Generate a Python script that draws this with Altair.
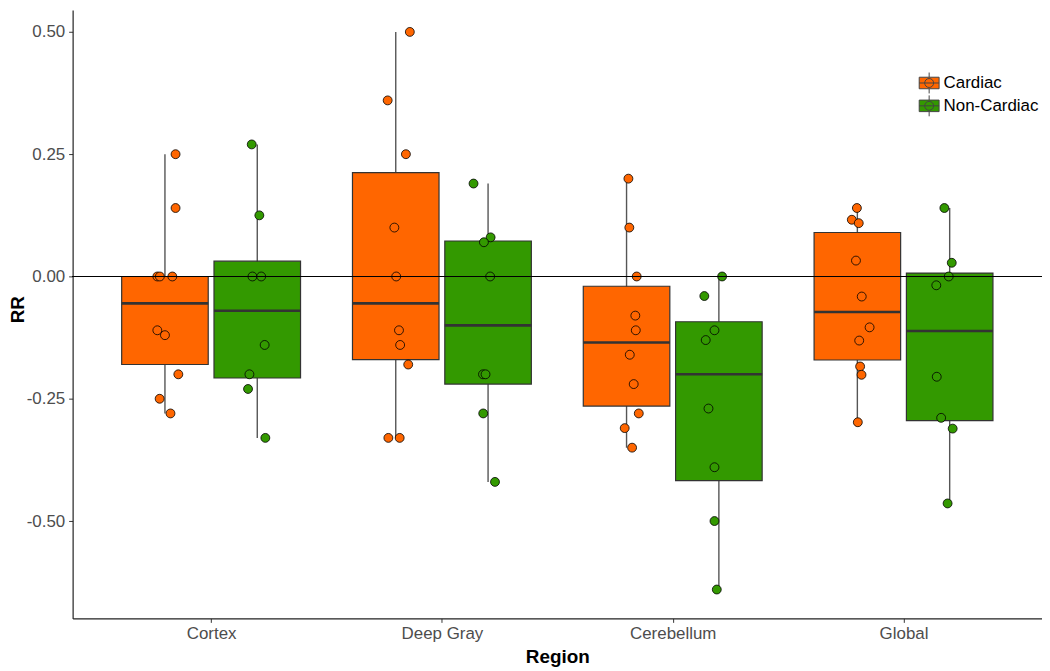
import altair as alt
import pandas as pd

regions = ["Cortex", "Deep Gray", "Cerebellum", "Global"]
groups = ["Cardiac", "Non-Cardiac"]
colors = ["#FF6600", "#339900"]

cortex_cardiac = [0.25, 0.14, 0.0, 0.0, 0.0, -0.11, -0.12, -0.20, -0.25, -0.28]
cortex_cardiac_jitter = [0.046, 0.046, -0.033, -0.022, 0.032, -0.033, 0.0, 0.058, -0.023, 0.024]
cortex_noncardiac = [0.27, 0.125, 0.0, 0.0, -0.14, -0.20, -0.23, -0.33]
cortex_noncardiac_jitter = [-0.024, 0.009, -0.021, 0.017, 0.032, -0.034, -0.040, 0.035]
deepgray_cardiac = [0.50, 0.36, 0.25, 0.10, 0.0, -0.11, -0.14, -0.18, -0.33, -0.33]
deepgray_cardiac_jitter = [0.061, -0.035, 0.044, -0.006, 0.002, 0.014, 0.019, 0.054, -0.032, 0.017]
deepgray_noncardiac = [0.19, 0.08, 0.07, 0.0, -0.20, -0.20, -0.28, -0.42]
deepgray_noncardiac_jitter = [-0.063, 0.011, -0.018, 0.009, -0.022, -0.011, -0.021, 0.030]
cerebellum_cardiac = [0.20, 0.10, 0.0, -0.08, -0.11, -0.16, -0.22, -0.28, -0.31, -0.35]
cerebellum_cardiac_jitter = [0.008, 0.012, 0.044, 0.038, 0.040, 0.014, 0.031, 0.053, -0.008, 0.024]
cerebellum_noncardiac = [0.0, -0.04, -0.11, -0.13, -0.27, -0.39, -0.50, -0.64]
cerebellum_noncardiac_jitter = [0.014, -0.063, -0.019, -0.057, -0.045, -0.019, -0.019, -0.009]
global_cardiac = [0.14, 0.116, 0.109, 0.0325, -0.041, -0.104, -0.131, -0.184, -0.201, -0.298]
global_cardiac_jitter = [-0.002, -0.024, 0.006, -0.006, 0.019, 0.053, 0.008, 0.012, 0.018, 0.002]
global_noncardiac = [0.14, 0.028, 0.0, -0.018, -0.205, -0.289, -0.311, -0.464]
global_noncardiac_jitter = [-0.023, 0.009, -0.004, -0.058, -0.056, -0.037, 0.013, -0.009]

series = [
    ("Cortex", "Cardiac", cortex_cardiac, cortex_cardiac_jitter),
    ("Cortex", "Non-Cardiac", cortex_noncardiac, cortex_noncardiac_jitter),
    ("Deep Gray", "Cardiac", deepgray_cardiac, deepgray_cardiac_jitter),
    ("Deep Gray", "Non-Cardiac", deepgray_noncardiac, deepgray_noncardiac_jitter),
    ("Cerebellum", "Cardiac", cerebellum_cardiac, cerebellum_cardiac_jitter),
    ("Cerebellum", "Non-Cardiac", cerebellum_noncardiac, cerebellum_noncardiac_jitter),
    ("Global", "Cardiac", global_cardiac, global_cardiac_jitter),
    ("Global", "Non-Cardiac", global_noncardiac, global_noncardiac_jitter),
]

rows = []
for region, group, vals, jit in series:
    for v, j in zip(vals, jit):
        rows.append({"Region": region, "Group": group, "RR": v, "jitter": j})
df = pd.DataFrame(rows)

region_list = "[" + ",".join("'" + r + "'" for r in regions) + "]"
pos_expr = f"indexof({region_list}, datum.Region) + 1 + (datum.Group == 'Cardiac' ? -0.2 : 0.2)"

FONT = "Liberation Sans"

xscale = alt.Scale(domain=[0.4, 4.6], nice=False, zero=False)
yscale = alt.Scale(domain=[-0.699, 0.545], nice=False, zero=False)
color_scale = alt.Scale(domain=groups, range=colors)

xaxis = alt.Axis(
    values=[1, 2, 3, 4],
    labelExpr=f"{region_list}[datum.value - 1]",
    title="Region",
    grid=False,
    domainColor="#222222",
    domainWidth=1.2,
    tickColor="#333333",
    tickSize=4,
    labelColor="#4d4d4d",
    labelFontSize=17,
    labelFont=FONT,
    labelPadding=3,
    titleFont=FONT,
    titleFontSize=19,
    titleFontWeight="bold",
    titleColor="black",
    titlePadding=6,
)
yaxis = alt.Axis(
    values=[-0.5, -0.25, 0, 0.25, 0.5],
    labelExpr="(datum.value < 0 ? '-' : '') + format(abs(datum.value), '.2f')",
    title="RR",
    grid=False,
    domainColor="#222222",
    domainWidth=1.2,
    tickColor="#333333",
    tickSize=4,
    labelColor="#4d4d4d",
    labelFontSize=17,
    labelFont=FONT,
    labelPadding=4,
    titleFont=FONT,
    titleFontSize=19,
    titleFontWeight="bold",
    titleColor="black",
    titleX=-45,
    titleY=301,
    titleBaseline="bottom",
)

base = alt.Chart(df)

stats = base.transform_aggregate(
    lo="min(RR)", q1="q1(RR)", med="median(RR)", q3="q3(RR)", hi="max(RR)",
    groupby=["Region", "Group"],
).transform_calculate(
    pos=pos_expr
).transform_calculate(
    left="datum.pos - 0.1875", right="datum.pos + 0.1875"
)

whisker = stats.mark_rule(color="#555555", strokeWidth=1.4).encode(
    x=alt.X("pos:Q", scale=xscale, axis=xaxis),
    y=alt.Y("lo:Q", scale=yscale, axis=yaxis),
    y2="hi:Q",
)

legend_path = ("M-1,-0.58H1V0.58H-1Z M0,-1.05V-0.58 M0,0.58V1.05 M-1,0H1 "
               "M0.45,0A0.45,0.45 0 1 1 -0.45,0A0.45,0.45 0 1 1 0.45,0Z")

box = stats.mark_bar(stroke="#333333", strokeWidth=1.2, opacity=1).encode(
    x=alt.X("left:Q", scale=xscale),
    x2="right:Q",
    y=alt.Y("q1:Q", scale=yscale),
    y2="q3:Q",
    fill=alt.Fill(
        "Group:N",
        scale=color_scale,
        legend=alt.Legend(
            title=None,
            orient="none",
            legendX=851,
            legendY=63,
            symbolType=legend_path,
            symbolSize=400,
            symbolStrokeColor="#444444",
            symbolStrokeWidth=1,
            symbolOpacity=1,
            labelFont=FONT,
            labelFontSize=17,
            labelColor="black",
            labelOffset=4,
            rowPadding=-3,
        ),
    ),
)

median = stats.mark_rule(color="#333333", strokeWidth=2.6).encode(
    x=alt.X("left:Q", scale=xscale),
    x2="right:Q",
    y=alt.Y("med:Q", scale=yscale),
)

points = base.transform_calculate(
    pos=pos_expr
).transform_calculate(
    px="datum.pos + datum.jitter"
).mark_circle(size=80, stroke="black", strokeWidth=0.8, opacity=1).encode(
    x=alt.X("px:Q", scale=xscale),
    y=alt.Y("RR:Q", scale=yscale),
    fill=alt.Fill("Group:N", scale=color_scale, legend=None),
)

zero = alt.Chart(df).mark_rule(color="black", strokeWidth=1.2).encode(
    y=alt.datum(0),
)

chart = alt.layer(whisker, box, median, points, zero).properties(
    width=975,
    height=612,
    autosize=alt.AutoSizeParams(type="none"),
    padding={"left": 65, "top": 0, "right": 0, "bottom": 50},
    background="white",
).configure_view(stroke=None)

chart.save("out.html", embed_options={"renderer": "svg", "actions": False})
